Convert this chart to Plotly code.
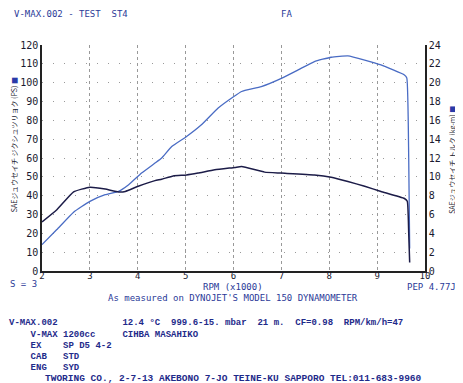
import plotly.graph_objects as go

# Data (RPM x1000)
rpm_power = [2.0, 2.31, 2.66, 3.0, 3.32, 3.6, 3.81, 4.08, 4.36, 4.5, 4.71, 5.02, 5.33, 5.68, 6.0,
             6.17, 6.58, 7.0, 7.35, 7.69, 8.04, 8.39, 8.74, 9.08, 9.57, 9.62, 9.66, 9.68]
power_ps = [14, 22, 31.2, 37, 40.5, 42.3, 45.8, 52, 57.3, 60, 66.1, 71.4, 77.6, 86.5, 92.5,
            95.3, 97.9, 102.3, 106.8, 111.2, 113.5, 114.2, 112, 109.4, 104.1, 102.5, 60, 12]
rpm_torque = [2.0, 2.31, 2.66, 3.0, 3.32, 3.6, 3.74, 4.01, 4.36, 4.5, 4.74, 5.02, 5.26, 5.61, 6.03,
              6.17, 6.65, 7.0, 7.69, 8.04, 8.39, 8.74, 9.08, 9.57, 9.63, 9.66, 9.68]
torque_kgm = [5.2, 6.5, 8.4, 8.9, 8.7, 8.4, 8.45, 9.0, 9.6, 9.75, 10.1, 10.2, 10.4, 10.75, 11.0,
              11.1, 10.5, 10.4, 10.2, 9.95, 9.5, 9.0, 8.45, 7.7, 7.4, 4.0, 0.9]

x_ticks = [2, 3, 4, 5, 6, 7, 8, 9, 10]
y1_ticks = list(range(0, 121, 10))
y2_ticks = list(range(0, 25, 2))

blue_txt = "#2b3a98"
tick_font = dict(family="DejaVu Sans Mono, monospace", size=10, color="#1a1a30")
xtick_font = dict(family="DejaVu Sans Mono, monospace", size=9, color="#1a1a30")

# page body has an 8px margin; plot area in page pixels: x 40..425, y 45..271
OFF = 8
PL, PR, PT, PB = 40, 425, 45, 271


def px(xp):
    return (xp - PL) / (PR - PL)


def py(yp):
    return (PB - yp) / (PB - PT)


fig = go.Figure()
fig.add_trace(go.Scatter(x=rpm_power, y=power_ps, mode="lines",
                         line=dict(color="#4a6cc4", width=1.3, shape="spline", smoothing=0.4),
                         showlegend=False))
fig.add_trace(go.Scatter(x=rpm_torque, y=torque_kgm, mode="lines", yaxis="y2",
                         line=dict(color="#1c1c48", width=1.5, shape="spline", smoothing=0.4),
                         showlegend=False))

W, H = 463 - OFF, 383 - OFF
fig.update_layout(
    width=W, height=H,
    margin=dict(l=PL - OFF, r=W - (PR - OFF), t=PT - OFF, b=H - (PB - OFF)),
    paper_bgcolor="white", plot_bgcolor="white",
    xaxis=dict(range=[2, 10], tickvals=x_ticks, ticktext=[str(v) for v in x_ticks],
               showline=True, linecolor="#222", linewidth=1.5, mirror=False,
               showgrid=True, gridcolor="#999", griddash="dot", gridwidth=1,
               zeroline=False, ticks="", tickfont=xtick_font, ticklen=0,
               ticklabelstandoff=-5),
    yaxis=dict(range=[0, 120], tickvals=y1_ticks, showline=True, linecolor="#222", linewidth=1.5,
               showgrid=True, gridcolor="#999", griddash="1px,10px", gridwidth=1,
               zeroline=False, ticks="", tickfont=tick_font),
    yaxis2=dict(range=[0, 24], tickvals=y2_ticks, overlaying="y", side="right",
                showline=True, linecolor="#222", linewidth=1.5, showgrid=False,
                zeroline=False, ticks="", tickfont=tick_font),
)

annos = [
    (10, 14, "V-MAX.002 - TEST  ST4", "left"),
    (278, 14, "FA", "left"),
    (6, 284, "S = 3", "left"),
    (232, 287, "RPM (x1000)", "center"),
    (458, 287, "PEP 4.77J", "right"),
    (232, 298, "As measured on DYNOJET'S MODEL 150 DYNAMOMETER", "center"),
]
for x, y, t, anc in annos:
    fig.add_annotation(xref="paper", yref="paper", x=px(x), y=py(y), text=t.replace(" ", "&nbsp;"),
                       xanchor=anc, yanchor="middle", showarrow=False,
                       font=dict(family="DejaVu Sans Mono, monospace", size=9, color=blue_txt))

bold_lines = [
    (5, 323, "V-MAX.002            12.4 \u00b0C  999.6-15. mbar  21 m.  CF=0.98  RPM/km/h=47"),
    (5, 335, "    V-MAX 1200cc     CIHBA MASAHIKO"),
    (5, 346, "    EX    SP D5 4-2"),
    (5, 357, "    CAB   STD"),
    (5, 368, "    ENG   SYD"),
]
for x, y, t in bold_lines:
    fig.add_annotation(xref="paper", yref="paper", x=px(x), y=py(y),
                       text="<b>" + t.replace(" ", "&nbsp;") + "</b>",
                       xanchor="left", yanchor="middle", showarrow=False,
                       font=dict(family="Liberation Mono, monospace", size=9, color="#1e2a8a"))
fig.add_annotation(xref="paper", yref="paper", x=px(232), y=py(378),
                   text="<b>TWORING CO., 2-7-13 AKEBONO 7-JO TEINE-KU SAPPORO TEL:011-683-9960</b>",
                   xanchor="center", yanchor="middle", showarrow=False,
                   font=dict(family="Liberation Mono, monospace", size=9.5, color="#1e2a8a"))

# axis titles (vertical)
fig.add_annotation(xref="paper", yref="paper", x=px(12), y=py(145),
                   text="SAEジュウセイチ ジクシュツリョク (PS) <span style='color:#2a3aa8'>■</span>",
                   textangle=-90, showarrow=False, xanchor="center", yanchor="middle",
                   font=dict(family="Noto Sans CJK JP", size=7, color="#1a1a30"))
fig.add_annotation(xref="paper", yref="paper", x=px(452), y=py(160),
                   text="SAEジュウセイチ トルク (kg-m) <span style='color:#2a3aa8'>■</span>",
                   textangle=-90, showarrow=False, xanchor="center", yanchor="middle",
                   font=dict(family="Noto Sans CJK JP", size=7, color="#1a1a30"))

fig.write_html("out.html")
